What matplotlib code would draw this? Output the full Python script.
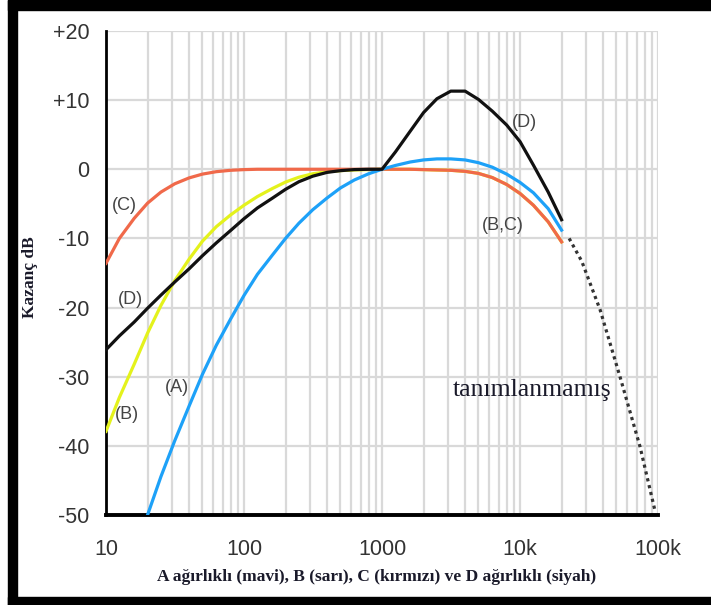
import matplotlib
matplotlib.use("Agg")
import matplotlib.pyplot as plt
from matplotlib.patches import Rectangle
from matplotlib.ticker import FixedLocator, NullFormatter, LogLocator

# third-octave frequencies (Hz)
freq = [10, 12.5, 16, 20, 25, 31.5, 40, 50, 63, 80, 100, 125, 160, 200, 250, 315,
        400, 500, 630, 800, 1000, 1250, 1600, 2000, 2500, 3150, 4000, 5000, 6300,
        8000, 10000, 12500, 16000, 20000]

# (dB)
c_db = [-13.6, -10.0, -7.1, -4.9, -3.3, -2.1, -1.25, -0.7, -0.35, -0.15, -0.05, 0, 0, 0, 0, 0,
        0, 0, 0, 0, 0, 0, 0, -0.05, -0.1, -0.15, -0.3, -0.6, -1.2,
        -2.2, -3.5, -5.2, -7.6, -10.5]
b_db = [-37.9, -33.0, -28.2, -23.7, -19.7, -16.1, -13.0, -10.4, -8.3, -6.6, -5.2, -3.95, -2.8, -1.85, -1.15, -0.65,
        -0.35, -0.2, -0.1, -0.05, 0, 0, 0, -0.05, -0.1, -0.15, -0.3, -0.6, -1.2,
        -2.2, -3.5, -5.2, -7.6, -10.5]
d_db = [-26.1, -24.1, -22.1, -20.1, -18.2, -16.3, -14.4, -12.5, -10.65, -8.85, -7.15, -5.6, -4.2, -2.9, -1.8, -1.0,
        -0.45, -0.2, -0.05, 0, 0, 2.5, 5.5, 8.2, 10.2, 11.3, 11.3, 10.1, 8.4,
        6.4, 4.0, 0.6, -3.3, -7.3]
a_freq = freq[3:]
a_db = [-50.0, -44.45, -39.25, -34.25, -29.65, -25.45, -21.65, -18.25, -15.2, -12.45, -10.0, -7.8, -5.85,
        -4.15, -2.7, -1.55, -0.65, 0, 0.55, 1.05, 1.35, 1.5, 1.5, 1.35, 0.95, 0.3,
        -0.7, -1.9, -3.4, -5.7, -8.8]

# undefined region beyond 20 kHz
u_freq = [22700, 28000, 38000, 53000, 74000, 95600]
u_db = [-10.0, -13.3, -20.3, -30.0, -40.1, -49.6]

xticks = [10, 100, 1000, 10000, 100000]
xlabels = ["10", "100", "1000", "10k", "100k"]
yticks = [20, 10, 0, -10, -20, -30, -40, -50]
ylabels = ["+20", "+10", "0", "-10", "-20", "-30", "-40", "-50"]

fig = plt.figure(figsize=(7.11, 6.05), dpi=100)
ax = fig.add_axes([0.1491, 0.1488, 0.7764, 0.8000])

ax.plot(freq, b_db, color="#E4F21C", lw=2.3, zorder=3)
ax.plot(freq, c_db, color="#F0694A", lw=2.3, zorder=4)
ax.plot(a_freq, a_db, color="#1DA1F8", lw=2.3, zorder=5)
ax.plot(freq, d_db, color="#111111", lw=2.3, zorder=6)
ax.plot(u_freq, u_db, color="#333333", lw=2.3, linestyle=(0, (1, 1.2)), zorder=6)

ax.set_xscale("log")
ax.set_xlim(10, 100000)
ax.set_ylim(-50, 20)
ax.xaxis.set_major_locator(FixedLocator(xticks))
ax.set_xticklabels(xlabels)
ax.xaxis.set_minor_locator(LogLocator(base=10, subs=range(2, 10)))
ax.xaxis.set_minor_formatter(NullFormatter())
ax.set_yticks(yticks)
ax.set_yticklabels(ylabels)
ax.tick_params(axis="both", which="both", length=0, labelsize=15.5,
               labelcolor="#333333")
ax.tick_params(axis="x", pad=17)
ax.tick_params(axis="y", pad=12)
for lab in ax.get_xticklabels() + ax.get_yticklabels():
    lab.set_fontfamily("Liberation Sans")

ax.grid(True, which="both", axis="x", color="#d9d9d9", lw=1.6)
ax.grid(True, which="major", axis="y", color="#d9d9d9", lw=1.6)
ax.set_axisbelow(True)
for s in ["top", "right"]:
    ax.spines[s].set_visible(False)
ax.spines["left"].set_linewidth(2)
ax.spines["bottom"].set_linewidth(2.8)

lab_kw = dict(fontsize=13, color="#444444", family="Liberation Sans",
              ha="center", va="center")
ax.text(13.5, -5.2, "(C)", **lab_kw)
ax.text(15.0, -18.8, "(D)", **lab_kw)
ax.text(14.2, -35.5, "(B)", **lab_kw)
ax.text(32.5, -31.6, "(A)", **lab_kw)
ax.text(10800, 6.8, "(D)", **lab_kw)
ax.text(7500, -8.2, "(B,C)", **lab_kw)
ax.text(12200, -31.9, "tanımlanmamış", fontsize=18.5, color="#1a1a2a",
        family="Liberation Serif", ha="center", va="center")

fig.text(0.530, 0.046, "A ağırlıklı (mavi), B (sarı), C (kırmızı) ve D ağırlıklı (siyah)",
         fontsize=12.5, weight="bold", family="Liberation Serif",
         ha="center", va="center", color="#1a1a2a")
fig.text(0.042, 0.542, "Kazanç dB", fontsize=12.5, weight="bold",
         family="Liberation Serif", rotation=90, ha="center", va="center",
         color="#1a1a2a")

# thick black frame (left, top, bottom)
W, H = 711.0, 605.0
for x, y, w, h in [(8, 0, 9, 605), (8, 597, 703, 8), (8, 0, 703, 10)]:
    fig.add_artist(Rectangle((x / W, 1 - (y + h) / H), w / W, h / H,
                             transform=fig.transFigure, color="black", zorder=10))

fig.savefig("out.png", dpi=100)
